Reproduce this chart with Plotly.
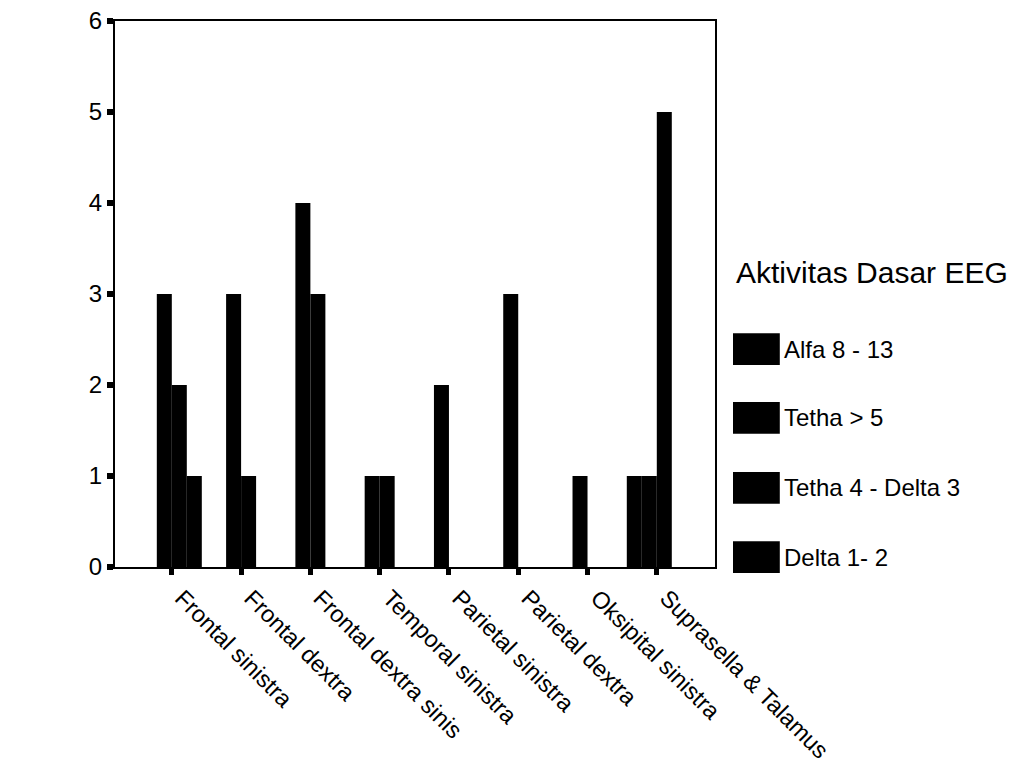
import plotly.graph_objects as go

categories = ["Frontal sinistra", "Frontal dextra", "Frontal dextra sinis",
              "Temporal sinistra", "Parietal sinistra", "Parietal dextra",
              "Oksipital sinistra", "Suprasella & Talamus"]
series_names = ["Alfa 8 - 13", "Tetha > 5", "Tetha 4 - Delta 3", "Delta 1- 2"]
alfa = [0, 0, 0, 0, 0, 0, 0, 1]
tetha5 = [3, 3, 4, 1, 2, 3, 1, 1]
tetha4_delta3 = [2, 1, 3, 1, 0, 0, 0, 5]
delta12 = [1, 0, 0, 0, 0, 0, 0, 0]
series_values = [alfa, tetha5, tetha4_delta3, delta12]
y_ticks = [0, 1, 2, 3, 4, 5, 6]
legend_title = "Aktivitas Dasar EEG"

FONT = "Liberation Sans, Arial, sans-serif"

fig = go.Figure()
for name, vals in zip(series_names, series_values):
    fig.add_trace(go.Bar(x=categories, y=vals, name=name,
                         marker=dict(color="black", line=dict(width=0)),
                         showlegend=False))

# custom legend (large swatches as in the reference)
legend_y = [0.399, 0.273, 0.145, 0.018]
for name, yc in zip(series_names, legend_y):
    fig.add_shape(type="rect", xref="paper", yref="paper",
                  x0=1.030, x1=1.108, y0=yc - 0.029, y1=yc + 0.029,
                  fillcolor="black", line=dict(width=0))
    fig.add_annotation(xref="paper", yref="paper", x=1.111, y=yc,
                       text=name, showarrow=False, xanchor="left",
                       yanchor="middle", font=dict(family=FONT, size=24, color="black"))
fig.add_annotation(xref="paper", yref="paper", x=1.031, y=0.540,
                   text=legend_title, showarrow=False, xanchor="left",
                   yanchor="middle", font=dict(family=FONT, size=30, color="black"))

fig.update_layout(
    width=1025, height=769,
    margin=dict(l=115, r=310, t=21, b=202),
    paper_bgcolor="white", plot_bgcolor="white",
    barmode="group", bargap=0.134, bargroupgap=0,
    font=dict(family=FONT, color="black"),
    xaxis=dict(type="category", range=[-0.82, 7.84], automargin=False,
               showline=True, linecolor="black", linewidth=2, mirror=True,
               ticks="outside", ticklen=6, tickwidth=5, tickcolor="black",
               tickangle=45, tickfont=dict(family=FONT, size=23.5, color="black"),
               ticklabelstandoff=0, ticklabelshift=10,
               showgrid=False, zeroline=False),
    yaxis=dict(range=[0, 6], tickvals=y_ticks, automargin=False,
               showline=True, linecolor="black", linewidth=2, mirror=True,
               ticks="outside", ticklen=6, tickwidth=6, tickcolor="black",
               tickfont=dict(family=FONT, size=24, color="black"),
               showgrid=False, zeroline=False),
)

fig.write_html("out.html")
